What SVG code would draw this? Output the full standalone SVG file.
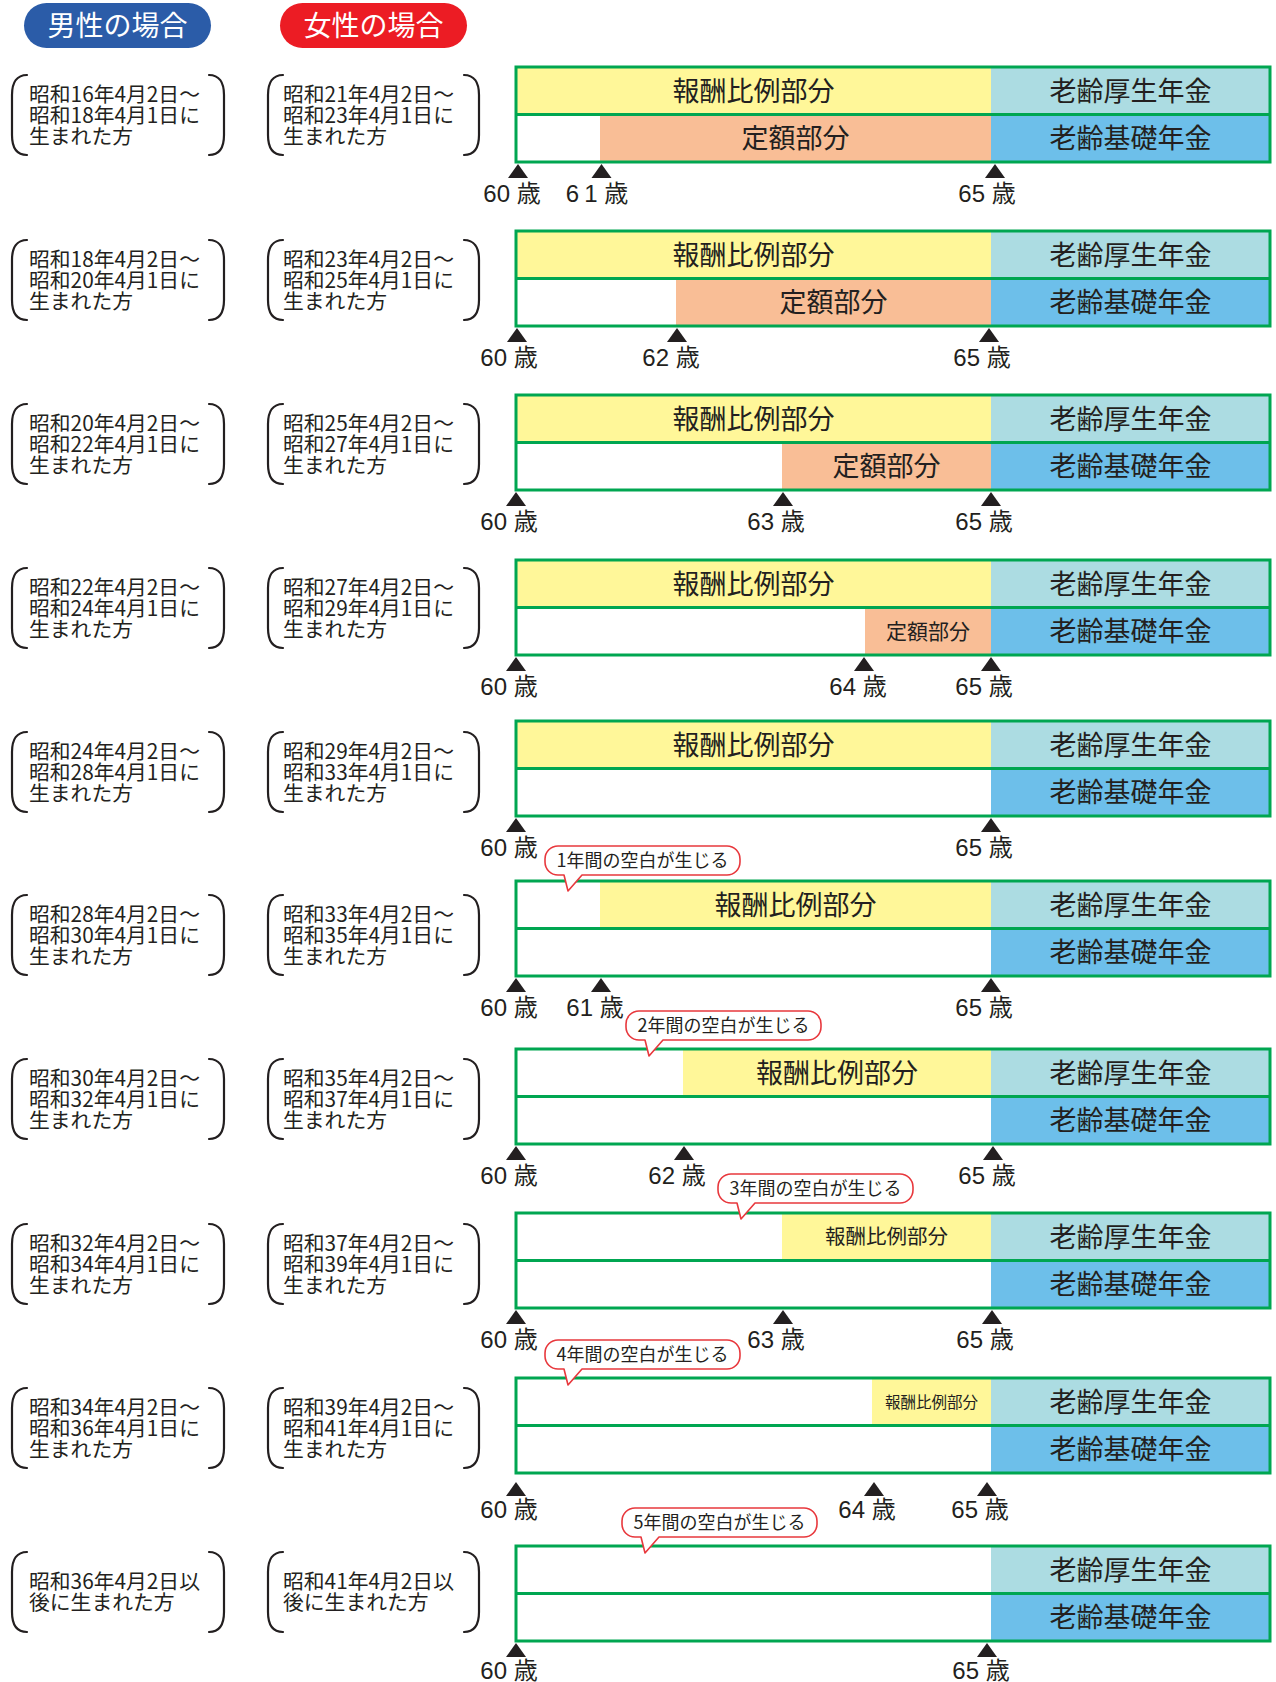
<svg xmlns="http://www.w3.org/2000/svg" xmlns:xlink="http://www.w3.org/1999/xlink" width="1276" height="1682" viewBox="0 0 1276 1682">
<style>
.yel{fill:#fff799}
.teal{fill:#acdce2}
.org{fill:#f9be96}
.blue{fill:#6dbfea}
.frame{fill:none;stroke:#00a651;stroke-width:3}
text{font-family:"Noto Sans CJK JP","Noto Sans",sans-serif;fill:#231f20}
.bar{font-size:27px;text-anchor:middle}
.age{font-family:"Liberation Sans","Noto Sans CJK JP",sans-serif;font-size:24px;text-anchor:middle}
.who{font-size:20.8px}
.pill{font-size:28px;fill:#fff;text-anchor:middle}
.co{font-size:18px;text-anchor:middle}
.brk{fill:none;stroke:#231f20;stroke-width:2.2;stroke-linecap:round}
.bub{fill:#fff;stroke:#e8383d;stroke-width:1.6;stroke-linejoin:round}
.tk{fill:#231f20}
</style>
<defs>
<path id="bl" class="brk" d="M 15,-40 C 5,-40 0,-33 0,-20 L 0,20 C 0,33 5,40 15,40"/>
<path id="br" class="brk" d="M -15,-40 C -5,-40 0,-33 0,-20 L 0,20 C 0,33 -5,40 -15,40"/>
<path id="tk" class="tk" d="M 0,0 L 10,14 L -10,14 Z"/>
<path id="bub" class="bub" d="M 13,0 H 182 A 13,13 0 0 1 195,13 V 16 A 13,13 0 0 1 182,29 H 37 L 23,45 L 19,29 H 13 A 13,13 0 0 1 0,16 V 13 A 13,13 0 0 1 13,0 Z"/>
</defs>

<g id="header-male">
<rect x="24" y="3" width="187" height="45" rx="22.5" fill="#2b5ca8"/>
<text class="pill" x="117.5" y="35.5">男性の場合</text>
</g>
<g id="header-female">
<rect x="280" y="3" width="187" height="45" rx="22.5" fill="#ec1c24"/>
<text class="pill" x="373.5" y="35.5">女性の場合</text>
</g>

<!-- Row 1 -->
<g id="row1-male">
<use xlink:href="#bl" x="12" y="115"/><use xlink:href="#br" x="224" y="115"/>
<text class="who" x="29" y="102">昭和16年4月2日〜<tspan x="29" dy="21">昭和18年4月1日に</tspan><tspan x="29" dy="21">生まれた方</tspan></text>
</g>
<g id="row1-female">
<use xlink:href="#bl" x="268" y="115"/><use xlink:href="#br" x="479" y="115"/>
<text class="who" x="283" y="102">昭和21年4月2日〜<tspan x="283" dy="21">昭和23年4月1日に</tspan><tspan x="283" dy="21">生まれた方</tspan></text>
</g>
<g id="row1-chart">
<rect class="yel" x="516" y="67" width="475" height="47.5"/>
<rect class="teal" x="991" y="67" width="279" height="47.5"/>
<rect class="org" x="600" y="114.5" width="391" height="47.5"/>
<rect class="blue" x="991" y="114.5" width="279" height="47.5"/>
<rect class="frame" x="516" y="67" width="754" height="95"/>
<line class="frame" x1="516" y1="114.5" x2="1270" y2="114.5"/>
<text class="bar" x="753.5" y="100.5">報酬比例部分</text>
<text class="bar" x="795.5" y="148">定額部分</text>
<text class="bar" x="1130.5" y="100.5">老齢厚生年金</text>
<text class="bar" x="1130.5" y="148">老齢基礎年金</text>
<use xlink:href="#tk" x="518" y="164"/><use xlink:href="#tk" x="601.5" y="164"/><use xlink:href="#tk" x="995" y="164"/>
<text class="age" x="512" y="202">60 歳</text>
<text class="age" x="597" y="202">6<tspan dx="5">1</tspan> 歳</text>
<text class="age" x="987" y="202">65 歳</text>
</g>

<!-- Row 2 -->
<g id="row2-male">
<use xlink:href="#bl" x="12" y="280"/><use xlink:href="#br" x="224" y="280"/>
<text class="who" x="29" y="267">昭和18年4月2日〜<tspan x="29" dy="21">昭和20年4月1日に</tspan><tspan x="29" dy="21">生まれた方</tspan></text>
</g>
<g id="row2-female">
<use xlink:href="#bl" x="268" y="280"/><use xlink:href="#br" x="479" y="280"/>
<text class="who" x="283" y="267">昭和23年4月2日〜<tspan x="283" dy="21">昭和25年4月1日に</tspan><tspan x="283" dy="21">生まれた方</tspan></text>
</g>
<g id="row2-chart">
<rect class="yel" x="516" y="231" width="475" height="47.5"/>
<rect class="teal" x="991" y="231" width="279" height="47.5"/>
<rect class="org" x="676" y="278.5" width="315" height="47.5"/>
<rect class="blue" x="991" y="278.5" width="279" height="47.5"/>
<rect class="frame" x="516" y="231" width="754" height="95"/>
<line class="frame" x1="516" y1="278.5" x2="1270" y2="278.5"/>
<text class="bar" x="753.5" y="264.5">報酬比例部分</text>
<text class="bar" x="833.5" y="312">定額部分</text>
<text class="bar" x="1130.5" y="264.5">老齢厚生年金</text>
<text class="bar" x="1130.5" y="312">老齢基礎年金</text>
<use xlink:href="#tk" x="517" y="328"/><use xlink:href="#tk" x="677" y="328"/><use xlink:href="#tk" x="989" y="328"/>
<text class="age" x="509" y="366">60 歳</text>
<text class="age" x="671" y="366">62 歳</text>
<text class="age" x="982" y="366">65 歳</text>
</g>

<!-- Row 3 -->
<g id="row3-male">
<use xlink:href="#bl" x="12" y="444"/><use xlink:href="#br" x="224" y="444"/>
<text class="who" x="29" y="431">昭和20年4月2日〜<tspan x="29" dy="21">昭和22年4月1日に</tspan><tspan x="29" dy="21">生まれた方</tspan></text>
</g>
<g id="row3-female">
<use xlink:href="#bl" x="268" y="444"/><use xlink:href="#br" x="479" y="444"/>
<text class="who" x="283" y="431">昭和25年4月2日〜<tspan x="283" dy="21">昭和27年4月1日に</tspan><tspan x="283" dy="21">生まれた方</tspan></text>
</g>
<g id="row3-chart">
<rect class="yel" x="516" y="395" width="475" height="47.5"/>
<rect class="teal" x="991" y="395" width="279" height="47.5"/>
<rect class="org" x="782" y="442.5" width="209" height="47.5"/>
<rect class="blue" x="991" y="442.5" width="279" height="47.5"/>
<rect class="frame" x="516" y="395" width="754" height="95"/>
<line class="frame" x1="516" y1="442.5" x2="1270" y2="442.5"/>
<text class="bar" x="753.5" y="428.5">報酬比例部分</text>
<text class="bar" x="886.5" y="476">定額部分</text>
<text class="bar" x="1130.5" y="428.5">老齢厚生年金</text>
<text class="bar" x="1130.5" y="476">老齢基礎年金</text>
<use xlink:href="#tk" x="516" y="492"/><use xlink:href="#tk" x="783" y="492"/><use xlink:href="#tk" x="991" y="492"/>
<text class="age" x="509" y="530">60 歳</text>
<text class="age" x="776" y="530">63 歳</text>
<text class="age" x="984" y="530">65 歳</text>
</g>

<!-- Row 4 -->
<g id="row4-male">
<use xlink:href="#bl" x="12" y="608"/><use xlink:href="#br" x="224" y="608"/>
<text class="who" x="29" y="595">昭和22年4月2日〜<tspan x="29" dy="21">昭和24年4月1日に</tspan><tspan x="29" dy="21">生まれた方</tspan></text>
</g>
<g id="row4-female">
<use xlink:href="#bl" x="268" y="608"/><use xlink:href="#br" x="479" y="608"/>
<text class="who" x="283" y="595">昭和27年4月2日〜<tspan x="283" dy="21">昭和29年4月1日に</tspan><tspan x="283" dy="21">生まれた方</tspan></text>
</g>
<g id="row4-chart">
<rect class="yel" x="516" y="560" width="475" height="47.5"/>
<rect class="teal" x="991" y="560" width="279" height="47.5"/>
<rect class="org" x="865" y="607.5" width="126" height="47.5"/>
<rect class="blue" x="991" y="607.5" width="279" height="47.5"/>
<rect class="frame" x="516" y="560" width="754" height="95"/>
<line class="frame" x1="516" y1="607.5" x2="1270" y2="607.5"/>
<text class="bar" x="753.5" y="593.5">報酬比例部分</text>
<text class="bar" x="928" y="639" style="font-size:21px">定額部分</text>
<text class="bar" x="1130.5" y="593.5">老齢厚生年金</text>
<text class="bar" x="1130.5" y="641">老齢基礎年金</text>
<use xlink:href="#tk" x="516" y="657"/><use xlink:href="#tk" x="864" y="657"/><use xlink:href="#tk" x="991" y="657"/>
<text class="age" x="509" y="695">60 歳</text>
<text class="age" x="858" y="695">64 歳</text>
<text class="age" x="984" y="695">65 歳</text>
</g>

<!-- Row 5 -->
<g id="row5-male">
<use xlink:href="#bl" x="12" y="772"/><use xlink:href="#br" x="224" y="772"/>
<text class="who" x="29" y="759">昭和24年4月2日〜<tspan x="29" dy="21">昭和28年4月1日に</tspan><tspan x="29" dy="21">生まれた方</tspan></text>
</g>
<g id="row5-female">
<use xlink:href="#bl" x="268" y="772"/><use xlink:href="#br" x="479" y="772"/>
<text class="who" x="283" y="759">昭和29年4月2日〜<tspan x="283" dy="21">昭和33年4月1日に</tspan><tspan x="283" dy="21">生まれた方</tspan></text>
</g>
<g id="row5-chart">
<rect class="yel" x="516" y="721" width="475" height="47.5"/>
<rect class="teal" x="991" y="721" width="279" height="47.5"/>
<rect class="blue" x="991" y="768.5" width="279" height="47.5"/>
<rect class="frame" x="516" y="721" width="754" height="95"/>
<line class="frame" x1="516" y1="768.5" x2="1270" y2="768.5"/>
<text class="bar" x="753.5" y="754.5">報酬比例部分</text>
<text class="bar" x="1130.5" y="754.5">老齢厚生年金</text>
<text class="bar" x="1130.5" y="802">老齢基礎年金</text>
<use xlink:href="#tk" x="516" y="818"/><use xlink:href="#tk" x="991" y="818"/>
<text class="age" x="509" y="856">60 歳</text>
<text class="age" x="984" y="856">65 歳</text>
</g>

<!-- Row 6 -->
<g id="row6-male">
<use xlink:href="#bl" x="12" y="935"/><use xlink:href="#br" x="224" y="935"/>
<text class="who" x="29" y="922">昭和28年4月2日〜<tspan x="29" dy="21">昭和30年4月1日に</tspan><tspan x="29" dy="21">生まれた方</tspan></text>
</g>
<g id="row6-female">
<use xlink:href="#bl" x="268" y="935"/><use xlink:href="#br" x="479" y="935"/>
<text class="who" x="283" y="922">昭和33年4月2日〜<tspan x="283" dy="21">昭和35年4月1日に</tspan><tspan x="283" dy="21">生まれた方</tspan></text>
</g>
<g id="row6-chart">
<rect class="yel" x="600" y="881" width="391" height="47.5"/>
<rect class="teal" x="991" y="881" width="279" height="47.5"/>
<rect class="blue" x="991" y="928.5" width="279" height="47.5"/>
<rect class="frame" x="516" y="881" width="754" height="95"/>
<line class="frame" x1="516" y1="928.5" x2="1270" y2="928.5"/>
<text class="bar" x="795.5" y="914.5">報酬比例部分</text>
<text class="bar" x="1130.5" y="914.5">老齢厚生年金</text>
<text class="bar" x="1130.5" y="962">老齢基礎年金</text>
<use xlink:href="#tk" x="516" y="978"/><use xlink:href="#tk" x="601" y="978"/><use xlink:href="#tk" x="991" y="978"/>
<text class="age" x="509" y="1016">60 歳</text>
<text class="age" x="595" y="1016">61 歳</text>
<text class="age" x="984" y="1016">65 歳</text>
</g>

<!-- Row 7 -->
<g id="row7-male">
<use xlink:href="#bl" x="12" y="1099"/><use xlink:href="#br" x="224" y="1099"/>
<text class="who" x="29" y="1086">昭和30年4月2日〜<tspan x="29" dy="21">昭和32年4月1日に</tspan><tspan x="29" dy="21">生まれた方</tspan></text>
</g>
<g id="row7-female">
<use xlink:href="#bl" x="268" y="1099"/><use xlink:href="#br" x="479" y="1099"/>
<text class="who" x="283" y="1086">昭和35年4月2日〜<tspan x="283" dy="21">昭和37年4月1日に</tspan><tspan x="283" dy="21">生まれた方</tspan></text>
</g>
<g id="row7-chart">
<rect class="yel" x="683" y="1049" width="308" height="47.5"/>
<rect class="teal" x="991" y="1049" width="279" height="47.5"/>
<rect class="blue" x="991" y="1096.5" width="279" height="47.5"/>
<rect class="frame" x="516" y="1049" width="754" height="95"/>
<line class="frame" x1="516" y1="1096.5" x2="1270" y2="1096.5"/>
<text class="bar" x="837" y="1082.5">報酬比例部分</text>
<text class="bar" x="1130.5" y="1082.5">老齢厚生年金</text>
<text class="bar" x="1130.5" y="1130">老齢基礎年金</text>
<use xlink:href="#tk" x="516" y="1146"/><use xlink:href="#tk" x="684" y="1146"/><use xlink:href="#tk" x="993" y="1146"/>
<text class="age" x="509" y="1184">60 歳</text>
<text class="age" x="677" y="1184">62 歳</text>
<text class="age" x="987" y="1184">65 歳</text>
</g>

<!-- Row 8 -->
<g id="row8-male">
<use xlink:href="#bl" x="12" y="1264"/><use xlink:href="#br" x="224" y="1264"/>
<text class="who" x="29" y="1251">昭和32年4月2日〜<tspan x="29" dy="21">昭和34年4月1日に</tspan><tspan x="29" dy="21">生まれた方</tspan></text>
</g>
<g id="row8-female">
<use xlink:href="#bl" x="268" y="1264"/><use xlink:href="#br" x="479" y="1264"/>
<text class="who" x="283" y="1251">昭和37年4月2日〜<tspan x="283" dy="21">昭和39年4月1日に</tspan><tspan x="283" dy="21">生まれた方</tspan></text>
</g>
<g id="row8-chart">
<rect class="yel" x="782" y="1213" width="209" height="47.5"/>
<rect class="teal" x="991" y="1213" width="279" height="47.5"/>
<rect class="blue" x="991" y="1260.5" width="279" height="47.5"/>
<rect class="frame" x="516" y="1213" width="754" height="95"/>
<line class="frame" x1="516" y1="1260.5" x2="1270" y2="1260.5"/>
<text class="bar" x="886.5" y="1244" style="font-size:20.5px">報酬比例部分</text>
<text class="bar" x="1130.5" y="1246.5">老齢厚生年金</text>
<text class="bar" x="1130.5" y="1294">老齢基礎年金</text>
<use xlink:href="#tk" x="516" y="1310"/><use xlink:href="#tk" x="783" y="1310"/><use xlink:href="#tk" x="992" y="1310"/>
<text class="age" x="509" y="1348">60 歳</text>
<text class="age" x="776" y="1348">63 歳</text>
<text class="age" x="985" y="1348">65 歳</text>
</g>

<!-- Row 9 -->
<g id="row9-male">
<use xlink:href="#bl" x="12" y="1428"/><use xlink:href="#br" x="224" y="1428"/>
<text class="who" x="29" y="1415">昭和34年4月2日〜<tspan x="29" dy="21">昭和36年4月1日に</tspan><tspan x="29" dy="21">生まれた方</tspan></text>
</g>
<g id="row9-female">
<use xlink:href="#bl" x="268" y="1428"/><use xlink:href="#br" x="479" y="1428"/>
<text class="who" x="283" y="1415">昭和39年4月2日〜<tspan x="283" dy="21">昭和41年4月1日に</tspan><tspan x="283" dy="21">生まれた方</tspan></text>
</g>
<g id="row9-chart">
<rect class="yel" x="872" y="1378" width="119" height="47.5"/>
<rect class="teal" x="991" y="1378" width="279" height="47.5"/>
<rect class="blue" x="991" y="1425.5" width="279" height="47.5"/>
<rect class="frame" x="516" y="1378" width="754" height="95"/>
<line class="frame" x1="516" y1="1425.5" x2="1270" y2="1425.5"/>
<text class="bar" x="931.5" y="1407.5" style="font-size:15.5px">報酬比例部分</text>
<text class="bar" x="1130.5" y="1411.5">老齢厚生年金</text>
<text class="bar" x="1130.5" y="1459">老齢基礎年金</text>
<use xlink:href="#tk" x="516" y="1482"/><use xlink:href="#tk" x="874" y="1482"/><use xlink:href="#tk" x="987" y="1482"/>
<text class="age" x="509" y="1518">60 歳</text>
<text class="age" x="867" y="1518">64 歳</text>
<text class="age" x="980" y="1518">65 歳</text>
</g>

<!-- Row 10 -->
<g id="row10-male">
<use xlink:href="#bl" x="12" y="1592"/><use xlink:href="#br" x="224" y="1592"/>
<text class="who" x="29" y="1589">昭和36年4月2日以<tspan x="29" dy="21">後に生まれた方</tspan></text>
</g>
<g id="row10-female">
<use xlink:href="#bl" x="268" y="1592"/><use xlink:href="#br" x="479" y="1592"/>
<text class="who" x="283" y="1589">昭和41年4月2日以<tspan x="283" dy="21">後に生まれた方</tspan></text>
</g>
<g id="row10-chart">
<rect class="teal" x="991" y="1546" width="279" height="47.5"/>
<rect class="blue" x="991" y="1593.5" width="279" height="47.5"/>
<rect class="frame" x="516" y="1546" width="754" height="95"/>
<line class="frame" x1="516" y1="1593.5" x2="1270" y2="1593.5"/>
<text class="bar" x="1130.5" y="1579.5">老齢厚生年金</text>
<text class="bar" x="1130.5" y="1627">老齢基礎年金</text>
<use xlink:href="#tk" x="516" y="1643"/><use xlink:href="#tk" x="987" y="1643"/>
<text class="age" x="509" y="1679">60 歳</text>
<text class="age" x="981" y="1679">65 歳</text>
</g>

<!-- Callouts -->
<g id="callout1"><use xlink:href="#bub" x="545" y="846"/><text class="co" x="642.5" y="867">1年間の空白が生じる</text></g>
<g id="callout2"><use xlink:href="#bub" x="626" y="1011"/><text class="co" x="723.5" y="1032">2年間の空白が生じる</text></g>
<g id="callout3"><use xlink:href="#bub" x="718" y="1174"/><text class="co" x="815.5" y="1195">3年間の空白が生じる</text></g>
<g id="callout4"><use xlink:href="#bub" x="545" y="1340"/><text class="co" x="642.5" y="1361">4年間の空白が生じる</text></g>
<g id="callout5"><use xlink:href="#bub" x="622" y="1508"/><text class="co" x="719.5" y="1529">5年間の空白が生じる</text></g>

<g id="connectors"/>
</svg>
